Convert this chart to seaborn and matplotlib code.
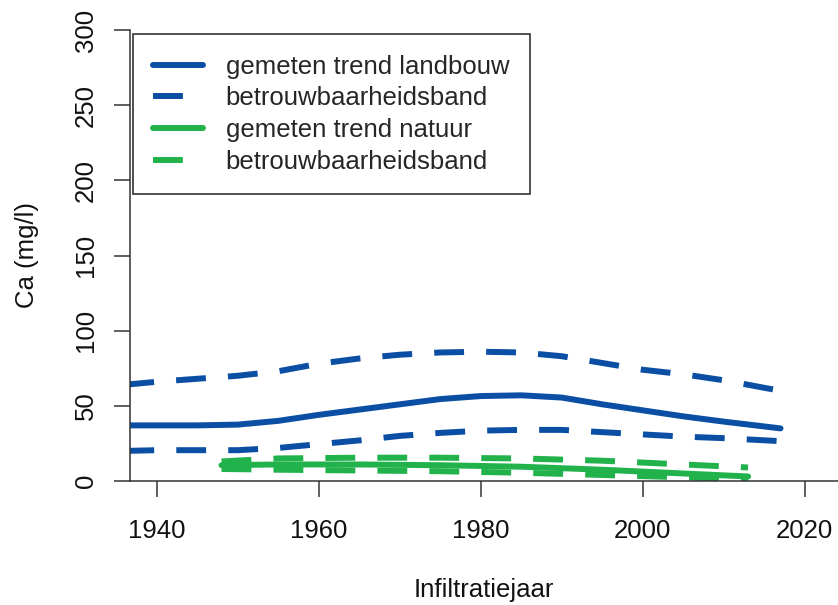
import matplotlib
matplotlib.use('Agg')
import matplotlib.pyplot as plt
import pandas as pd
import seaborn as sns

# Ca trend per infiltration year
years_landbouw = [1936, 1940, 1945, 1950, 1955, 1960, 1965, 1970, 1975, 1980,
                  1985, 1990, 1995, 2000, 2005, 2010, 2017]
trend_landbouw = [37, 37, 37, 37.5, 40, 44, 47.5, 51, 54.5, 56.5,
                  57, 55.5, 51, 47, 43, 39.5, 35]
upper_landbouw = [64, 66, 68, 70, 73, 78, 81.5, 84, 85.5, 86,
                  85.5, 83, 78.5, 74, 71, 67, 60]
lower_landbouw = [20, 20.5, 20.5, 20.5, 22, 24.5, 27, 30, 32, 33.5,
                  34, 34, 32.5, 31, 29.5, 28.5, 26.5]

years_natuur = [1948, 1955, 1965, 1975, 1985, 1995, 2005, 2013]
trend_natuur = [10.5, 11, 11, 10.5, 9.5, 7.5, 5, 3]
upper_natuur = [13, 15, 15.5, 15.5, 15, 13.5, 11, 9]
lower_natuur = [8, 7.5, 7, 6.5, 5.5, 4, 2.5, 1]

x_ticks = [1940, 1960, 1980, 2000, 2020]
y_ticks = [0, 50, 100, 150, 200, 250, 300]

BLUE = '#0b4fa5'
GREEN = '#22b24c'

sns.set_theme(style='ticks')
plt.rcParams['font.family'] = ['Liberation Sans', 'DejaVu Sans']

df_l = pd.DataFrame({'jaar': years_landbouw, 'trend': trend_landbouw,
                     'upper': upper_landbouw, 'lower': lower_landbouw})
df_n = pd.DataFrame({'jaar': years_natuur, 'trend': trend_natuur,
                     'upper': upper_natuur, 'lower': lower_natuur})

fig = plt.figure(figsize=(8.38, 6.05), dpi=100)
ax = fig.add_axes([130 / 838, 124 / 605, 708 / 838, 451 / 605])

lw = 4.3
dash = (0, (5, 3.7))
series = [
    (df_l, 'trend', BLUE, '-', 'gemeten trend landbouw'),
    (df_l, 'upper', BLUE, dash, 'betrouwbaarheidsband'),
    (df_l, 'lower', BLUE, dash, None),
    (df_n, 'trend', GREEN, '-', 'gemeten trend natuur'),
    (df_n, 'upper', GREEN, dash, 'betrouwbaarheidsband'),
    (df_n, 'lower', GREEN, dash, None),
]
for d, col, color, ls, lab in series:
    sns.lineplot(data=d, x='jaar', y=col, ax=ax, color=color, linewidth=lw,
                 linestyle=ls, label=lab if lab else '_nolegend_',
                 solid_capstyle='round', dash_capstyle='butt')

ax.set_xlim(1936.7, 2024.1)
ax.set_ylim(0, 300)
ax.set_xticks(x_ticks)
ax.set_yticks(y_ticks)
ax.tick_params(axis='both', labelsize=18.5, length=11.3, width=1.1,
               color='#333333', labelcolor='#111111')
ax.tick_params(axis='x', pad=16)
ax.tick_params(axis='y', pad=12)
for t in ax.get_yticklabels():
    t.set_rotation(90)
    t.set_va('center')
    t.set_ha('right')

for side in ['top', 'right']:
    ax.spines[side].set_visible(False)
for side in ['left', 'bottom']:
    ax.spines[side].set_color('#333333')
    ax.spines[side].set_linewidth(1.1)

ax.set_xlabel('Infiltratiejaar', fontsize=18.5, color='#111111')
ax.set_ylabel('Ca (mg/l)', fontsize=18.5, color='#111111')
ax.xaxis.set_label_coords(0.5, -0.2417)
ax.yaxis.set_label_coords(-0.1455, 0.5)
ax.xaxis.label.set_va('center')
ax.yaxis.label.set_va('center')

leg = ax.legend(loc='upper left', bbox_to_anchor=(0.004, 0.991),
                borderaxespad=0, fontsize=18.5, handlelength=1.95,
                handletextpad=0.86, borderpad=0.8, labelspacing=0.3,
                fancybox=False, framealpha=1, edgecolor='#222222')
leg.get_frame().set_linewidth(1.1)

fig.savefig('out.png', dpi=100)
